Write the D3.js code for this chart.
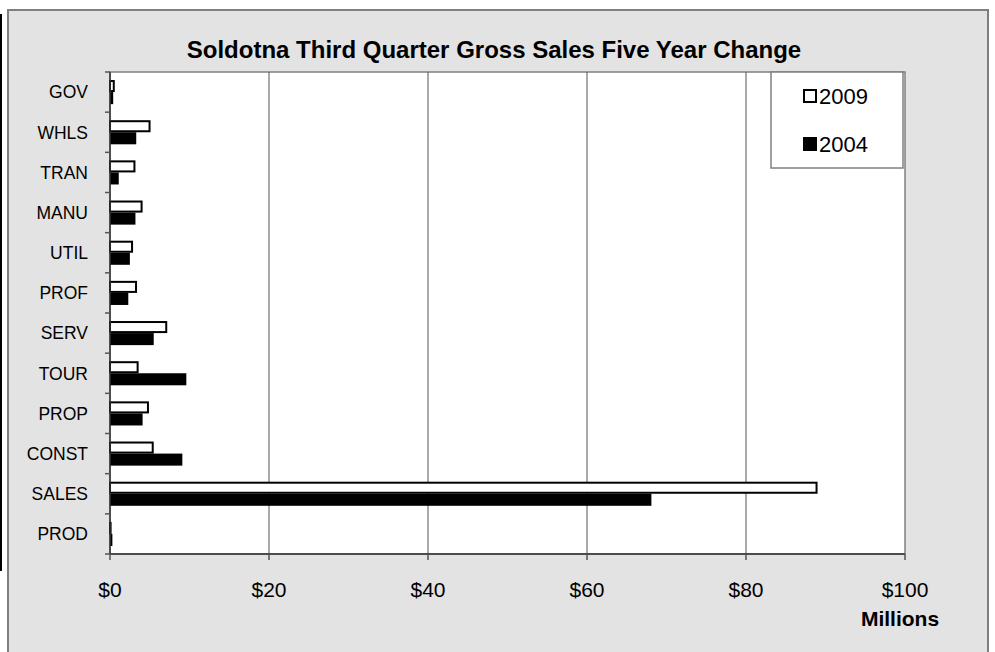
<!DOCTYPE html>
<html>
<head>
<meta charset="utf-8">
<script src="https://cdn.jsdelivr.net/npm/d3@7"></script>
<style>
  html, body { margin: 0; padding: 0; background: #ffffff; }
  svg { display: block; font-family: "Liberation Sans", Arial, sans-serif; }
</style>
</head>
<body>
<svg id="chart" width="995" height="652"></svg>
<script>
// ---- data (values in $ millions) ----
const categories = ["GOV", "WHLS", "TRAN", "MANU", "UTIL", "PROF", "SERV", "TOUR", "PROP", "CONST", "SALES", "PROD"];
const seriesNames = ["2009", "2004"];
const values2009 = [0.6, 5.1, 3.2, 4.1, 2.9, 3.4, 7.2, 3.6, 4.9, 5.5, 89.0, 0.2];
const values2004 = [0.4, 3.3, 1.1, 3.2, 2.5, 2.3, 5.5, 9.6, 4.1, 9.1, 68.1, 0.3];
const xTicks = [0, 20, 40, 60, 80, 100];
const titleText = "Soldotna Third Quarter Gross Sales Five Year Change";
const xAxisTitle = "Millions";

const rows = categories.map((c, i) => ({ cat: c, "2009": values2009[i], "2004": values2004[i] }));

const svg = d3.select("#chart");

// left black strip artifact
svg.append("rect").attr("x", 0).attr("y", 14).attr("width", 2).attr("height", 557).attr("fill", "#000");

// outer chart frame
svg.append("rect")
  .attr("x", 8).attr("y", 10).attr("width", 980).attr("height", 660)
  .attr("fill", "#e3e3e3").attr("stroke", "#7f7f7f").attr("stroke-width", 2);

const plot = { left: 110, top: 72, right: 905, bottom: 554 };

const x = d3.scaleLinear().domain([0, 100]).range([plot.left, plot.right]);
const y = d3.scaleBand().domain(categories).range([plot.top, plot.bottom])
  .paddingInner(0.4).paddingOuter(0.2);
const yInner = d3.scaleBand().domain(seriesNames).range([0, y.bandwidth()]);

// plot background
svg.append("rect")
  .attr("x", plot.left).attr("y", plot.top)
  .attr("width", plot.right - plot.left).attr("height", plot.bottom - plot.top)
  .attr("fill", "#ffffff").attr("stroke", "#808080").attr("stroke-width", 1.5);

// gridlines
svg.append("g").selectAll("line").data(xTicks.filter(t => t > 0 && t < 100)).join("line")
  .attr("x1", d => x(d)).attr("x2", d => x(d))
  .attr("y1", plot.top).attr("y2", plot.bottom)
  .attr("stroke", "#555").attr("stroke-width", 1);

// bars
const groups = svg.append("g").selectAll("g").data(rows).join("g")
  .attr("transform", d => `translate(0,${y(d.cat)})`);

groups.append("rect")
  .attr("x", x(0))
  .attr("y", yInner("2009") + 1)
  .attr("width", d => Math.max(0, x(d["2009"]) - x(0) - 1))
  .attr("height", yInner.bandwidth() - 2)
  .attr("fill", "#fff").attr("stroke", "#000").attr("stroke-width", 2);

groups.append("rect")
  .attr("x", x(0))
  .attr("y", yInner("2004"))
  .attr("width", d => x(d["2004"]) - x(0))
  .attr("height", yInner.bandwidth())
  .attr("fill", "#000");

// y axis
const yAxisG = svg.append("g").attr("transform", `translate(${plot.left},0)`);
yAxisG.append("line").attr("x1", 0).attr("x2", 0).attr("y1", plot.top).attr("y2", plot.bottom)
  .attr("stroke", "#333").attr("stroke-width", 1.5);
const bounds = [plot.top].concat(categories.map(c => y(c) + y.bandwidth() + y.step() * 0.2));
yAxisG.selectAll("line.tick").data(bounds).join("line").attr("class", "tick")
  .attr("x1", -5).attr("x2", 0).attr("y1", d => d).attr("y2", d => d)
  .attr("stroke", "#555").attr("stroke-width", 1.5);
yAxisG.selectAll("text").data(categories).join("text")
  .attr("x", -22).attr("y", d => y(d) + y.bandwidth() / 2)
  .attr("dy", "0.36em").attr("text-anchor", "end")
  .attr("font-size", 17.5).attr("fill", "#000").text(d => d);

// x axis
const xAxisG = svg.append("g").attr("transform", `translate(0,${plot.bottom})`);
xAxisG.append("line").attr("x1", plot.left).attr("x2", plot.right).attr("y1", 0).attr("y2", 0)
  .attr("stroke", "#333").attr("stroke-width", 1.5);
xAxisG.selectAll("line.tick").data(xTicks).join("line").attr("class", "tick")
  .attr("x1", d => x(d)).attr("x2", d => x(d)).attr("y1", 0).attr("y2", 6)
  .attr("stroke", "#555").attr("stroke-width", 1.5);
xAxisG.selectAll("text").data(xTicks).join("text")
  .attr("x", d => x(d)).attr("y", 43)
  .attr("text-anchor", "middle").attr("font-size", 21).attr("fill", "#000")
  .text(d => "$" + d);

svg.append("text").attr("x", 900).attr("y", 626).attr("text-anchor", "middle")
  .attr("font-size", 21).attr("font-weight", "bold").text(xAxisTitle);

// title
svg.append("text").attr("x", 494).attr("y", 58).attr("text-anchor", "middle")
  .attr("font-size", 24).attr("font-weight", "bold").text(titleText);

// legend
const lg = svg.append("g");
lg.append("rect").attr("x", 771).attr("y", 72).attr("width", 132).attr("height", 96)
  .attr("fill", "#fff").attr("stroke", "#808080").attr("stroke-width", 1.5);
const legendItems = [
  { name: seriesNames[0], fill: "#fff", ly: 96 },
  { name: seriesNames[1], fill: "#000", ly: 144 }
];
lg.selectAll("rect.sw").data(legendItems).join("rect").attr("class", "sw")
  .attr("x", 804).attr("y", d => d.ly - 6).attr("width", 12).attr("height", 12)
  .attr("fill", d => d.fill).attr("stroke", "#000").attr("stroke-width", 2);
lg.selectAll("text").data(legendItems).join("text")
  .attr("x", 819).attr("y", d => d.ly).attr("dy", "0.36em")
  .attr("font-size", 22).attr("fill", "#000").text(d => d.name);
</script>
</body>
</html>
